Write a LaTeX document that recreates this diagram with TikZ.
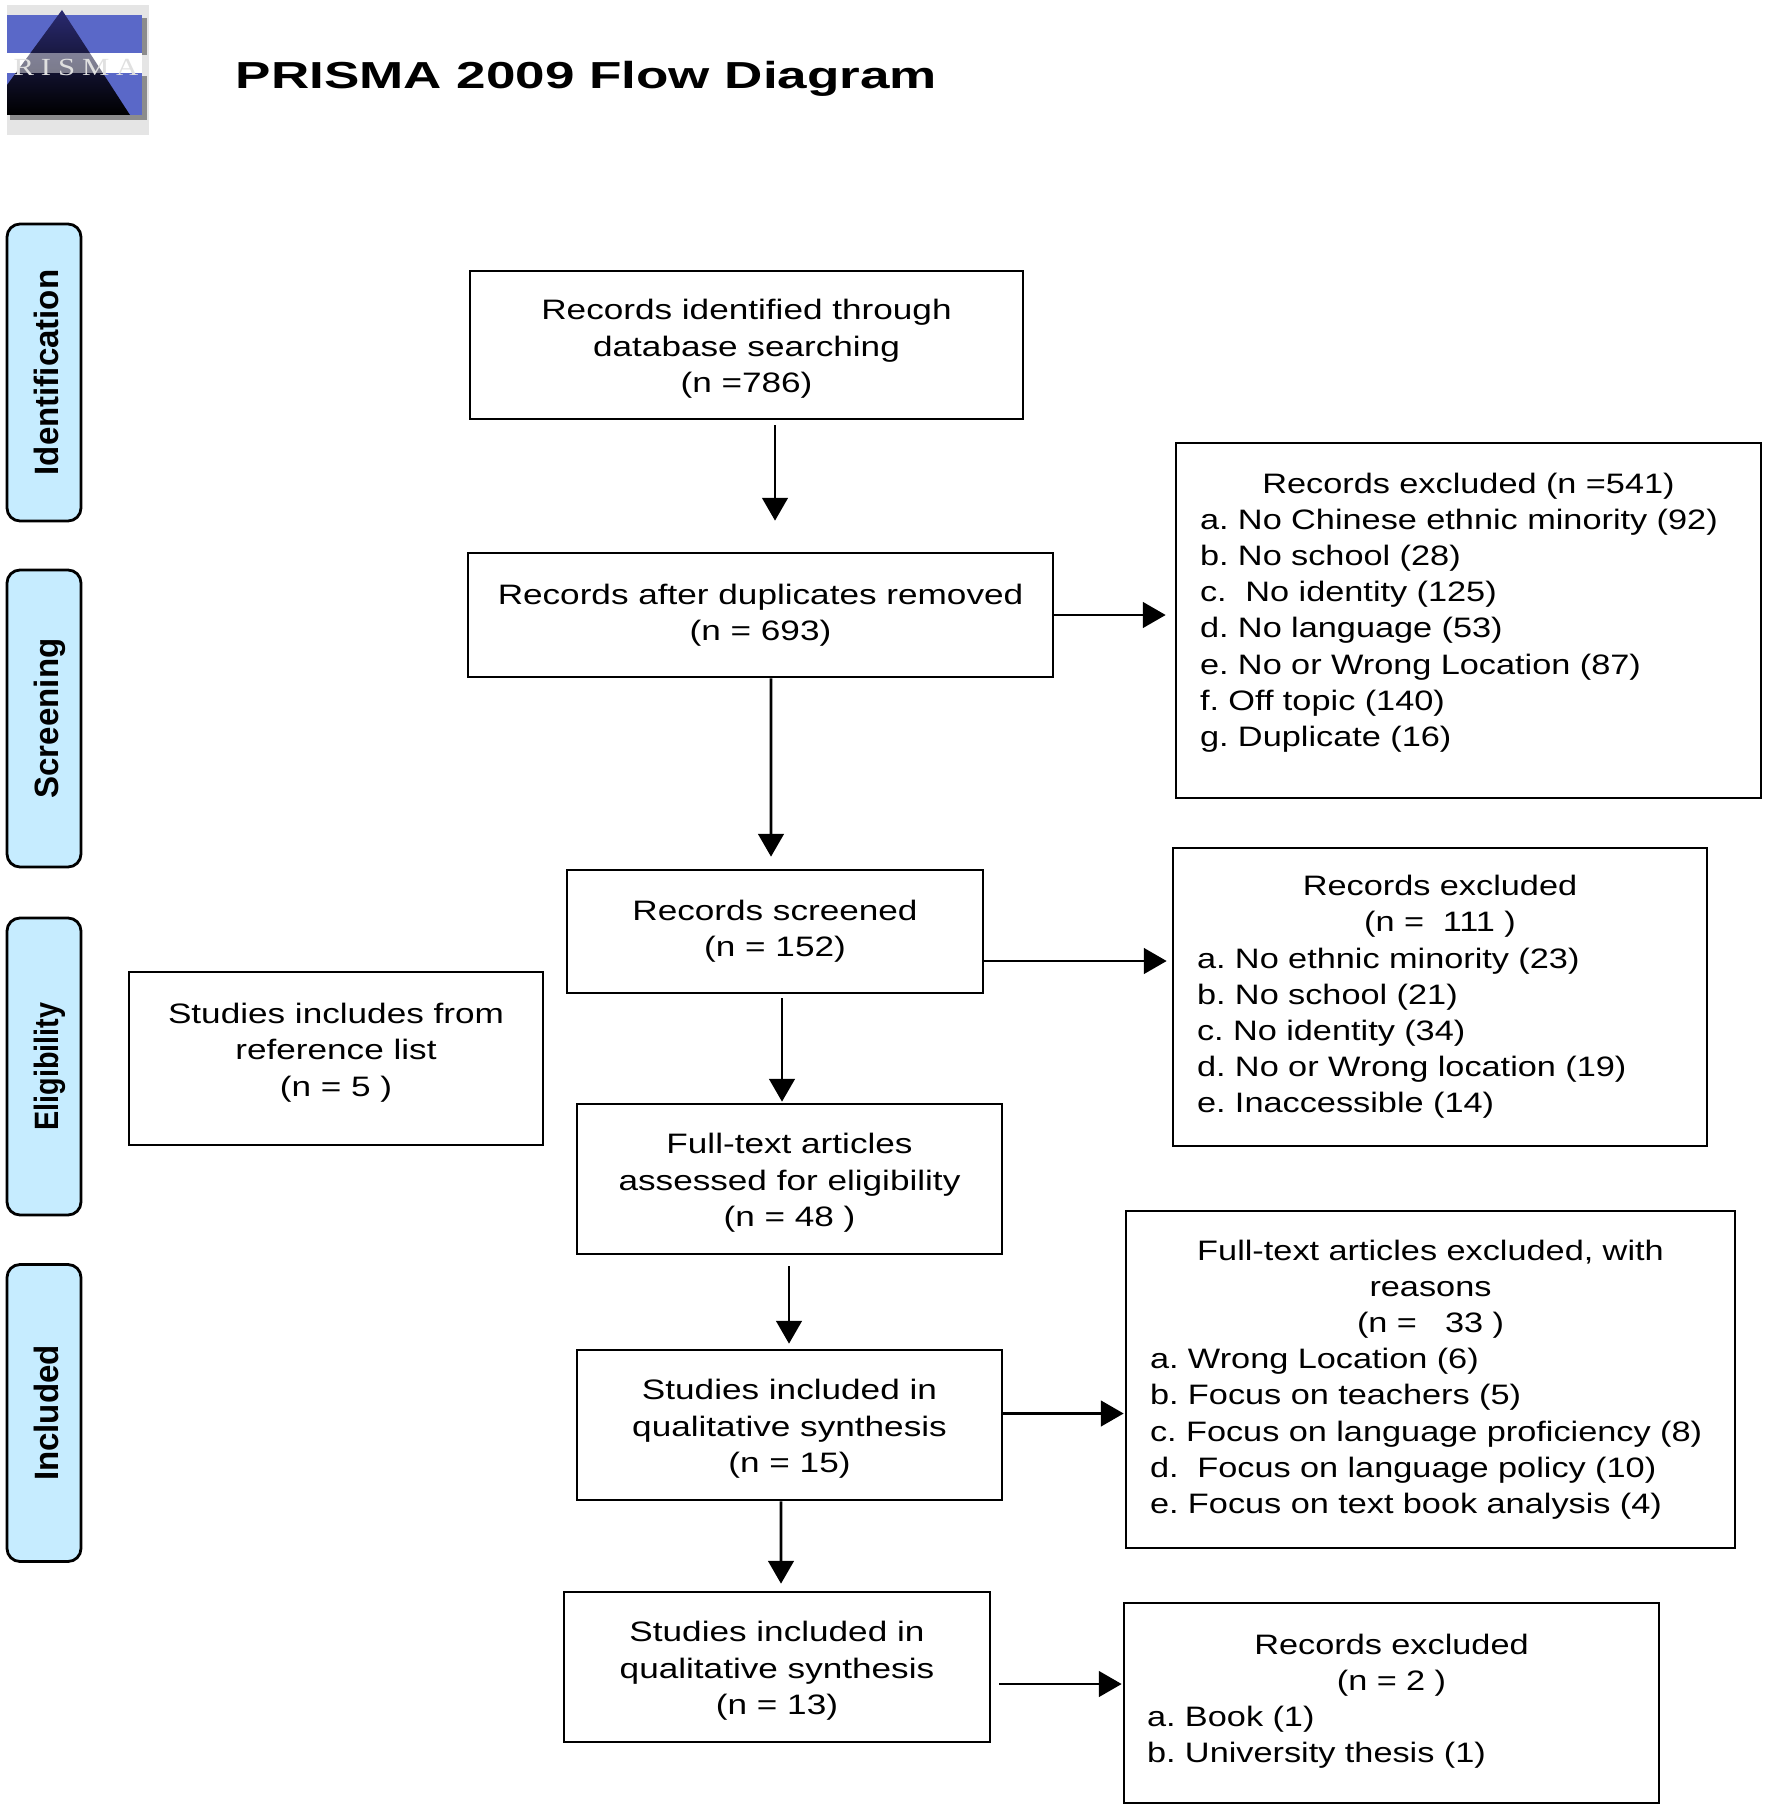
\documentclass[tikz,border=0pt]{standalone}
\usepackage{fontspec}
\usetikzlibrary{arrows}
\newfontfamily\bodyfont[FakeStretch=1.25]{Liberation Sans}
\newfontfamily\listfont[FakeStretch=1.22]{Liberation Sans}
\newfontfamily\titlefont[FakeStretch=1.41]{Liberation Sans Bold}
\newfontfamily\tabfont[FakeStretch=0.98]{Liberation Sans Bold}
\newfontfamily\logofont[FakeStretch=1.25,LetterSpace=28]{Liberation Serif}
\definecolor{tabblue}{HTML}{C6ECFF}
\definecolor{logoblue}{HTML}{5A68C8}
\definecolor{logonavy}{HTML}{2A2A70}
\newcommand{\ctr}[1]{\makebox[\linewidth][c]{#1}}
\newcommand{\padtop}[1]{\rule{0pt}{#1}}
\newcommand{\padbot}[1]{\rule[-#1]{0pt}{#1}}
\tikzset{
	flowbox/.style={align=center, draw, line width=0.8pt, inner sep=0pt, font=\bodyfont\frenchspacing\fontsize{8}{10.3}\selectfont},
	exclbox/.style={flowbox, align=left, font=\listfont\frenchspacing\fontsize{8}{10.3}\selectfont},
	phasetab/.style={draw, line width=0.8pt, fill=tabblue, rounded corners=0.13cm, rotate=90, inner sep=0pt,
		text height=8.4pt, text depth=0pt,
		minimum width=2.97cm, minimum height=0.74cm, font=\tabfont\fontsize{9.6}{11}\selectfont},
	flow/.style={-triangle 60, line width=0.75pt},
}
\begin{document}
\begin{tikzpicture}[x=1cm,y=1cm]
	\useasboundingbox (0,0) rectangle (17.72,-18.10);

	% logo
	\fill[black!10] (0.07,-0.05) rectangle (1.49,-1.35);
	\fill[black!45] (0.10,-0.18) rectangle (1.47,-0.55);
	\fill[black!45] (0.10,-0.76) rectangle (1.47,-1.20);
	\fill[logoblue] (0.07,-0.15) rectangle (1.42,-0.53);
	\fill[white] (0.07,-0.53) rectangle (1.42,-0.73);
	\fill[logoblue] (0.07,-0.73) rectangle (1.42,-1.15);
	\shade[top color=logonavy, bottom color=black] (0.62,-0.10) -- (0.07,-0.85) -- (0.07,-1.15) -- (1.30,-1.15) -- cycle;
	\fill[white, opacity=0.45] (0.07,-0.53) rectangle (1.42,-0.73);
	\node[inner sep=0pt, text=black!12, font=\logofont\fontsize{7}{8}\selectfont] at (0.76,-0.67) (logotext) {RISMA};

	\node[anchor=west, inner sep=0pt, font=\titlefont\fontsize{10.7}{13}\selectfont] at (2.35,-0.785) (title) {PRISMA 2009 Flow Diagram};

	% phases
	\node[phasetab] at (0.44,-3.725) (identification) {Identification};
	\node[phasetab] at (0.44,-7.185) (screening) {Screening};
	\node[phasetab] at (0.44,-10.665) (eligibility) {\scalebox{0.87}[1]{Eligibility}};
	\node[phasetab] at (0.44,-14.13) (included) {Included};

	% main column
	\node[flowbox, minimum width=5.53cm, minimum height=1.48cm] at (7.465,-3.45) (identified) {\padtop{8pt}Records identified through\\database searching\\(n =786)};
	\node[flowbox, minimum width=5.85cm, minimum height=1.24cm] at (7.605,-6.15) (duplicates) {Records after duplicates removed\\(n = 693)};
	\node[flowbox, minimum width=4.16cm, minimum height=1.23cm] at (7.75,-9.315) (screened) {Records screened\\(n = 152)};
	\node[flowbox, minimum width=4.25cm, minimum height=1.5cm] at (7.895,-11.79) (fulltext) {\padtop{8pt}Full-text articles\\assessed for eligibility\\(n = 48 )};
	\node[flowbox, minimum width=4.25cm, minimum height=1.5cm] at (7.895,-14.25) (qualitative) {\padtop{8pt}Studies included in\\qualitative synthesis\\(n = 15)};
	\node[flowbox, minimum width=4.26cm, minimum height=1.5cm] at (7.77,-16.67) (final) {\padtop{8pt}Studies included in\\qualitative synthesis\\(n = 13)};
	\node[flowbox, minimum width=4.14cm, minimum height=1.73cm] at (3.36,-10.585) (reflist) {Studies includes from\\reference list\\(n = 5 )\padbot{5pt}};

	% exclusions
	\node[exclbox, minimum width=5.85cm, minimum height=3.55cm, text width=5.37cm] at (14.685,-6.205) (exclA) {\ctr{Records excluded (n =541)}\\a. No Chinese ethnic minority (92)\\b. No school (28)\\c.~ No identity (125)\\d. No language (53)\\e. No or Wrong Location (87)\\f. Off topic (140)\\g. Duplicate (16)\padbot{6.2pt}};
	\node[exclbox, minimum width=5.34cm, minimum height=2.98cm, text width=4.86cm] at (14.40,-9.97) (exclB) {\ctr{Records excluded}\\\ctr{(n =~~111 )}\\a. No ethnic minority (23)\\b. No school (21)\\c. No identity (34)\\d. No or Wrong location (19)\\e. Inaccessible (14)};
	\node[exclbox, minimum width=6.09cm, minimum height=3.37cm, text width=5.61cm] at (14.305,-13.795) (exclC) {\ctr{Full-text articles excluded, with}\\\ctr{reasons}\\\ctr{(n =~~~33 )}\\a. Wrong Location (6)\\b. Focus on teachers (5)\\c. Focus on language proficiency (8)\\d.~ Focus on language policy (10)\\e. Focus on text book analysis (4)};
	\node[exclbox, minimum width=5.35cm, minimum height=2cm, text width=4.89cm] at (13.915,-17.03) (exclD) {\ctr{Records excluded}\\\ctr{(n =~2 )}\\a. Book (1)\\b. University thesis (1)\padbot{2.7pt}};

	\draw[flow] ([xshift=0.285cm,yshift=-0.05cm]identified.south) -- ([xshift=0.145cm,yshift=0.31cm]duplicates.north);
	\draw[flow] (duplicates.east) -- ([xshift=-0.09cm]duplicates.east -| exclA.west);
	\draw[flow] ([xshift=0.105cm]duplicates.south) -- ([xshift=-0.04cm,yshift=0.12cm]screened.north);
	\draw[flow] ([yshift=-0.295cm]screened.east) -- ([xshift=-0.05cm,yshift=-0.295cm]screened.east -| exclB.west);
	\draw[flow] ([xshift=0.07cm,yshift=-0.04cm]screened.south) -- ([xshift=-0.075cm,yshift=0.01cm]fulltext.north);
	\draw[flow] ([xshift=-0.005cm,yshift=-0.11cm]fulltext.south) -- ([xshift=-0.005cm,yshift=0.05cm]qualitative.north);
	\draw[flow] ([yshift=0.115cm]qualitative.east) -- ([xshift=-0.01cm,yshift=0.115cm]qualitative.east -| exclC.west);
	\draw[flow] ([xshift=0.08cm,yshift=-0.17cm]final.east) -- ([xshift=-0.01cm,yshift=-0.17cm]final.east -| exclD.west);
	\draw[flow] ([xshift=-0.085cm]qualitative.south) -- ([xshift=0.04cm,yshift=0.07cm]final.north);
\end{tikzpicture}
\end{document}
